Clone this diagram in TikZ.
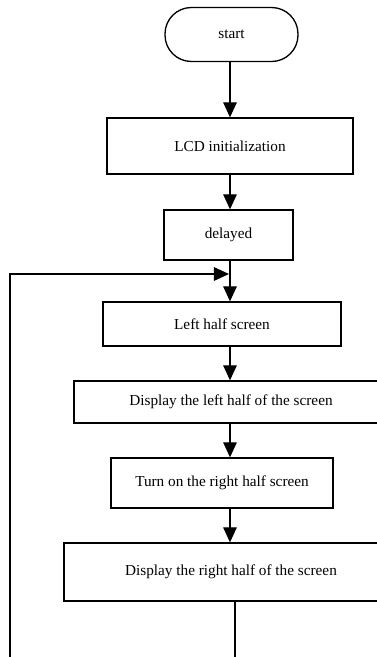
\documentclass[tikz,border=0pt]{standalone}
\usepackage{fontspec}
\setmainfont{Liberation Serif}
\usetikzlibrary{arrows.meta}
\tikzset{>={Triangle[length=0.4cm,width=0.36cm]}}
\tikzset{
  flowbox/.style={draw, line width=1pt, rectangle, inner sep=0pt, font=\fontsize{11.5}{13}\selectfont},
  termbox/.style={flowbox, rounded corners=0.7cm},
  flowline/.style={line width=1pt}
}

\begin{document}
\begin{tikzpicture}[x=0.0265cm, y=-0.0265cm]
    \useasboundingbox (0,0) rectangle (377,657);
    \clip (0,0) rectangle (377,657);
    % boxes, one below the other
    \node[termbox, minimum width=133*0.0265cm, minimum height=54*0.0265cm] (start) at (231.5,34.5) {start};
    \node[flowbox, minimum width=246*0.0265cm, minimum height=56*0.0265cm] (lcd) at (230,146) {LCD initialization};
    \node[flowbox, minimum width=129*0.0265cm, minimum height=50*0.0265cm] (delay) at (228.5,235) {delayed};
    \node[flowbox, minimum width=238*0.0265cm, minimum height=44*0.0265cm] (lefthalf) at (222,324) {Left half screen};
    \node[flowbox, minimum width=314*0.0265cm, minimum height=42*0.0265cm] (showleft) at (231,402) {Display the left half of the screen};
    \node[flowbox, minimum width=222*0.0265cm, minimum height=50*0.0265cm] (righthalf) at (222,483) {Turn on the right half screen};
    \node[flowbox, minimum width=334*0.0265cm, minimum height=58*0.0265cm] (showright) at (231,572) {Display the right half of the screen};
    % the arrows run down one column
    \coordinate (spine) at (230,0);
    \coordinate (join) at (229,274);
    \draw[flowline,->] (spine |- start.south) -- (spine |- lcd.north);
    \draw[flowline,->] (spine |- lcd.south) -- (spine |- delay.north);
    \draw[flowline,->] (spine |- delay.south) -- (spine |- lefthalf.north);
    \draw[flowline,->] (spine |- lefthalf.south) -- (spine |- showleft.north);
    \draw[flowline,->] (spine |- showleft.south) -- (spine |- righthalf.north);
    \draw[flowline,->] (spine |- righthalf.south) -- (spine |- showright.north);
    % loop back (cut off at the bottom)
    \coordinate (loopdown) at (235,680);
    \coordinate (loopleft) at (10,680);
    \draw[flowline,->] (loopdown |- showright.south) -- (loopdown) -- (loopleft) -- (loopleft |- join) -- (join);
\end{tikzpicture}
\end{document}
